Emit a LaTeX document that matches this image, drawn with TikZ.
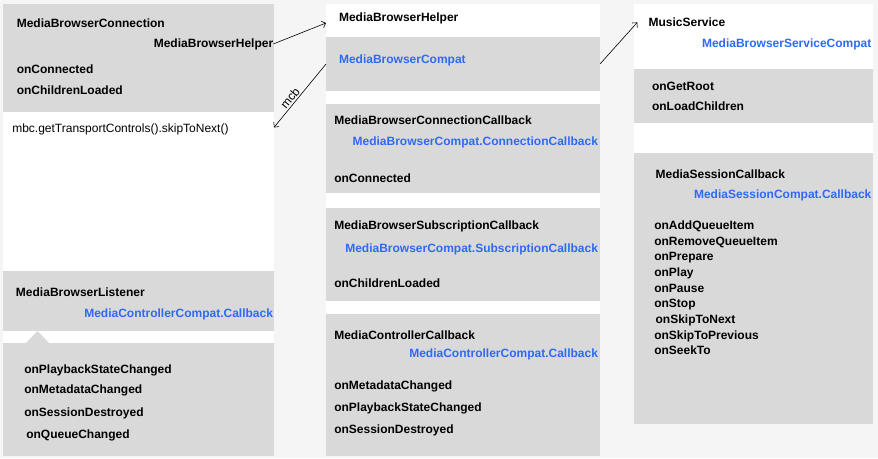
\documentclass[tikz,border=0pt]{standalone}
\usepackage{fontspec}
\setmainfont{Liberation Sans}
\usepackage{tikz}
\usetikzlibrary{positioning,arrows.meta}
\definecolor{pagebg}{HTML}{F5F5F5}
\definecolor{panel}{HTML}{D9D9D9}
\definecolor{compat}{HTML}{2F6AF5}
\newcommand{\diagfont}{\fontsize{12}{14}\selectfont}

\tikzset{
  sheet/.style={fill=white,inner sep=0pt,outer sep=0pt,anchor=north west},
  band/.style={sheet,fill=panel},
  cls/.style={font=\diagfont\bfseries,anchor=base west,inner sep=0pt},
  clsr/.style={cls,anchor=base east},
  api/.style={cls,text=compat,anchor=base east},
  apil/.style={cls,text=compat},
  code/.style={font=\diagfont,anchor=base west,inner sep=0pt},
}

\begin{document}
\begin{tikzpicture}[x=1pt,y=-1pt,line width=0.6pt,>={Straight Barb[length=3.5pt,width=7pt]}]
        \fill[pagebg] (0,0) rectangle (878,458);
        \useasboundingbox (0,0) rectangle (878,458);

        \path
        % left
        (3,4) node[sheet,minimum width=271pt,minimum height=452pt](leftcol) {}
        (3,4) node[band,minimum width=271pt,minimum height=108pt](connbox) {}
        (3,271) node[band,minimum width=271pt,minimum height=60pt](listenbox) {}
        (3,343) node[band,minimum width=271pt,minimum height=113pt](listenlist) {}

        % middle
        (326,4) node[sheet,minimum width=274pt,minimum height=452pt](midcol) {}
        (326,4) node[sheet,minimum width=274pt,minimum height=33pt](helperbox) {}
        (326,37) node[band,minimum width=274pt,minimum height=54pt](compatbox) {}
        (326,104) node[band,minimum width=274pt,minimum height=89pt](conncbbox) {}
        (326,208) node[band,minimum width=274pt,minimum height=93pt](subcbbox) {}
        (326,314) node[band,minimum width=274pt,minimum height=142pt](ctrlcbbox) {}

        % right
        (634,4) node[sheet,minimum width=239pt,minimum height=420pt](rightcol) {}
        (634,69) node[band,minimum width=239pt,minimum height=54pt](rootbox) {}
        (634,153) node[band,minimum width=239pt,minimum height=271pt](sessbox) {}
        ;

        \fill[panel] (26,343) -- (37.5,331) -- (49,343) -- cycle;

        \path
        % left
        (16.5,27.5) node[cls](mbconn) {MediaBrowserConnection}
        (273.5,47) node[clsr](mbhelper) {MediaBrowserHelper}
        (16.5,73) node[cls](lconnected) {onConnected}
        (16.5,94.5) node[cls](lchildren) {onChildrenLoaded}
        (12,132) node[code](mbc) {mbc.getTransportControls().skipToNext()}

        (15.7,296) node[cls](mblistener) {MediaBrowserListener}
        (273.3,317) node[api](lctrlcompat) {MediaControllerCompat.Callback}
        (24,373) node[cls](lplayback) {onPlaybackStateChanged}
        (24,393.5) node[cls](lmeta) {onMetadataChanged}
        (24,416.7) node[cls](ldestroyed) {onSessionDestroyed}
        (26,438.7) node[cls](lqueue) {onQueueChanged}

        % middle
        (338.7,21.5) node[cls](helper) {MediaBrowserHelper}
        (338.7,63) node[apil](browsercompat) {MediaBrowserCompat}

        (334,124) node[cls](conncb) {MediaBrowserConnectionCallback}
        (598.3,145) node[api](conncompat) {MediaBrowserCompat.ConnectionCallback}
        (334,182.5) node[cls](mconnected) {onConnected}

        (334,229.5) node[cls](subcb) {MediaBrowserSubscriptionCallback}
        (598.3,252.5) node[api](subcompat) {MediaBrowserCompat.SubscriptionCallback}
        (334,287.5) node[cls](mchildren) {onChildrenLoaded}

        (334,339.3) node[cls](ctrlcb) {MediaControllerCallback}
        (598.3,357) node[api](ctrlcompat) {MediaControllerCompat.Callback}
        (334,389.5) node[cls](mmeta) {onMetadataChanged}
        (334,411) node[cls](mplayback) {onPlaybackStateChanged}
        (334,433) node[cls](mdestroyed) {onSessionDestroyed}

        % right
        (648.3,26.7) node[cls](musicsvc) {MusicService}
        (871.7,47) node[api](svccompat) {MediaBrowserServiceCompat}
        (651.7,90.7) node[cls](getroot) {onGetRoot}
        (651.7,110) node[cls](loadchildren) {onLoadChildren}

        (655.3,178.3) node[cls](sesscb) {MediaSessionCallback}
        (871.7,198.3) node[api](sesscompat) {MediaSessionCompat.Callback}
        (654,229.3) node[cls](addqueue) {onAddQueueItem}
        (654,245) node[cls](removequeue) {onRemoveQueueItem}
        (654,260.7) node[cls](prepare) {onPrepare}
        (654,276.3) node[cls](play) {onPlay}
        (654,292) node[cls](pause) {onPause}
        (654,307.7) node[cls](stop) {onStop}
        (655.3,323.3) node[cls](skipnext) {onSkipToNext}
        (654,339) node[cls](skipprev) {onSkipToPrevious}
        (654,354.7) node[cls](seekto) {onSeekTo}
        ;

        \draw[->] (mbhelper.east) -- ([yshift=-2.5pt]helperbox.west);
        \draw[->] (compatbox.east) -- ([xshift=-11pt]musicsvc.west);
        \draw[->] (compatbox.west) -- ([yshift=1.5pt]leftcol.east |- mbc)
          node[pos=0.6,above=0.5pt,sloped,inner sep=1pt,font=\diagfont](mcb) {mcb};
      \end{tikzpicture}
\end{document}
